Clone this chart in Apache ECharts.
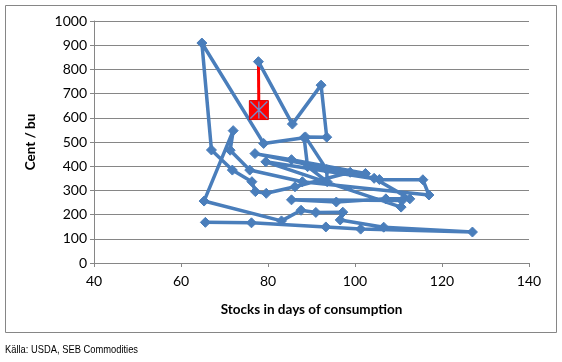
<!DOCTYPE html>
<html>
<head>
<meta charset="utf-8">
<script src="https://cdn.jsdelivr.net/npm/echarts@6/dist/echarts.min.js"></script>
<style>
html,body{margin:0;padding:0;background:#fff;}
#c{width:562px;height:362px;}
</style>
</head>
<body>
<div id="c"></div>
<script>
// Stocks in days of consumption (x) and price in cent/bu (y), in path order
var stocksDays = [65.6,76.2,93.3,101.3,127.0,106.6,96.6,97.2,91.0,87.6,83.1,65.3,72.0,71.3,75.8,87.9,117.0,115.6,105.6,79.5,110.6,110.8,85.4,95.7,107.1,112.6,104.4,77.0,85.4,102.4,98.9,86.2,79.6,77.1,76.3,71.8,67.0,64.8,79.0,88.3,89.1,93.6,93.5,88.6,93.5,92.2,85.6,77.8];
var priceCents = [168,166,149,140,128,148,178,210,209,218,174,256,547,466,384,336,281,344,345,418,231,258,261,252,265,265,350,452,427,370,375,315,288,295,336,384,467,909,494,518,398,336,386,521,520,735,574,832];
// forecast line (from last observation to estimate)
var forecastX = [77.8, 77.9];
var forecastY = [832, 632];
var xTicks = {min: 40, max: 140, step: 20};
var yTicks = {min: 0, max: 1000, step: 100};

var mainData = stocksDays.map(function(x, i){ return [x, priceCents[i]]; });
var fcData = forecastX.map(function(x, i){ return [x, forecastY[i]]; });
var fcPoint = [fcData[fcData.length - 1]];

var chart = echarts.init(document.getElementById('c'), null, {renderer: 'canvas'});
var gridColor = '#868686';
var font = 'Lato, "Open Sans", sans-serif';
chart.setOption({
  animation: false,
  backgroundColor: '#ffffff',
  grid: {left: 94, right: 33, top: 21, bottom: 99},
  xAxis: {
    type: 'value', min: xTicks.min, max: xTicks.max, interval: xTicks.step,
    name: 'Stocks in days of consumption', nameLocation: 'middle', nameGap: 40,
    nameTextStyle: {fontFamily: font, fontWeight: 'bold', fontSize: 13.5, color: '#000'},
    axisLine: {show: true, onZero: false, lineStyle: {color: gridColor, width: 1}},
    axisTick: {show: true, length: 4, lineStyle: {color: gridColor}},
    axisLabel: {fontFamily: font, fontSize: 14, color: '#000', margin: 11, formatter: function(v){ return String(v); }},
    splitLine: {show: false}
  },
  yAxis: {
    type: 'value', min: yTicks.min, max: yTicks.max, interval: yTicks.step,
    name: 'Cent / bu', nameLocation: 'middle', nameGap: 56, nameRotate: 90,
    nameTextStyle: {fontFamily: font, fontWeight: 'bold', fontSize: 13.5, color: '#000'},
    axisLine: {show: true, lineStyle: {color: gridColor, width: 1}},
    axisTick: {show: true, length: 4, lineStyle: {color: gridColor}},
    axisLabel: {fontFamily: font, fontSize: 14, color: '#000', margin: 7, formatter: function(v){ return String(v); }},
    splitLine: {show: true, lineStyle: {color: gridColor, width: 1}}
  },
  series: [
    {
      type: 'line', data: fcData, z: 2,
      showSymbol: false, symbol: 'none',
      lineStyle: {color: '#FF0000', width: 3}
    },
    {
      type: 'line', data: mainData, z: 3,
      symbol: 'diamond', symbolSize: 10, showAllSymbol: true,
      lineStyle: {color: '#4A7EBB', width: 3.5},
      itemStyle: {color: '#4A7EBB', borderColor: '#4A7EBB', borderWidth: 1}
    },
    {
      type: 'scatter', data: fcPoint, z: 4,
      symbol: 'rect', symbolSize: 19,
      itemStyle: {color: '#FF0000', borderColor: '#E00000', borderWidth: 1, opacity: 1}
    },
    {
      type: 'scatter', data: fcPoint, z: 5,
      symbol: 'path://M0,0L10,10M10,0L0,10M5,0L5,10', symbolSize: 17,
      itemStyle: {color: 'rgba(0,0,0,0)', borderColor: '#6F8FCF', borderWidth: 1.3, opacity: 1}
    }
  ],
  graphic: [
    {type: 'rect', shape: {x: 5.5, y: 5.5, width: 551, height: 327}, style: {fill: 'none', stroke: gridColor, lineWidth: 1}, z: -10, silent: true},
    {type: 'text', left: 5, top: 344, scaleX: 0.85, style: {text: 'Källa: USDA, SEB Commodities', font: '11px "Liberation Sans", Arial, sans-serif', fill: '#000'}}
  ]
});
</script>
</body>
</html>
